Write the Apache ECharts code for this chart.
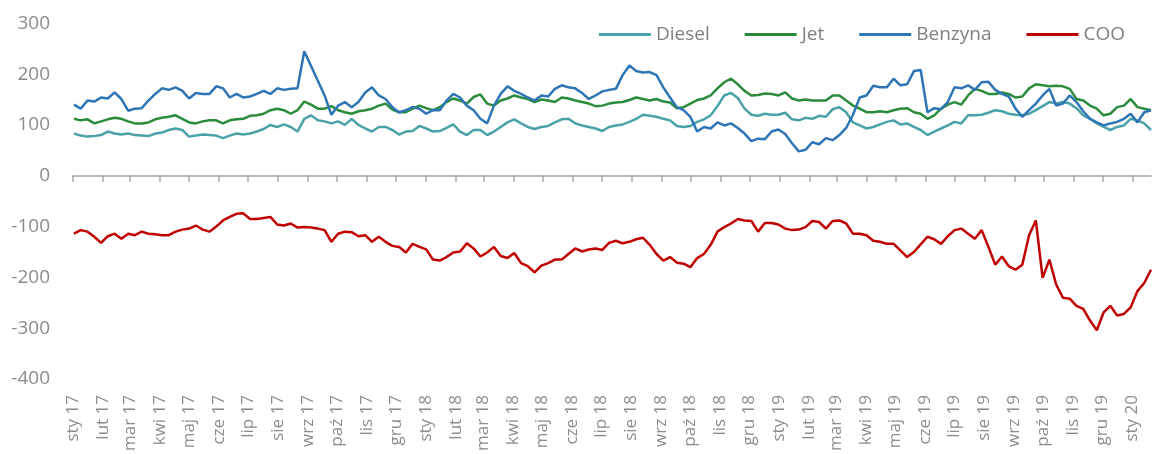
<!DOCTYPE html>
<html>
<head>
<meta charset="utf-8">
<script src="https://cdn.jsdelivr.net/npm/echarts@6/dist/echarts.min.js"></script>
<style>
html,body{margin:0;padding:0;background:#fff;}
#chart{width:1152px;height:454px;}
</style>
</head>
<body>
<div id="chart"></div>
<script>
// Weekly observations, first week starting 2017-01-02
const firstWeek = '2017-01-02';
const seriesNames = ['Diesel', 'Jet', 'Benzyna', 'COO'];
const monthNames = ['sty','lut','mar','kwi','maj','cze','lip','sie','wrz','paź','lis','gru'];
const yTicks = [-400, -300, -200, -100, 0, 100, 200, 300];

const diesel = [
  83,79,77,78,80,87,83,81,83,80,
  79,78,83,85,90,93,90,77,79,81,
  80,79,74,79,83,81,83,87,92,100,
  96,101,96,87,112,119,109,107,103,107,
  100,112,100,93,87,96,96,90,81,87,
  88,98,93,87,88,94,101,87,80,90,
  90,80,87,96,105,111,103,96,92,96,
  98,105,111,112,103,99,96,93,88,96,
  99,101,106,112,120,118,116,112,109,98,
  96,98,106,111,119,137,158,163,153,132,
  120,118,122,120,120,124,111,109,114,112,
  118,116,131,135,125,105,99,93,96,101,
  106,109,101,103,96,90,80,87,93,99,
  106,103,119,119,120,124,129,127,122,120,
  119,122,129,137,145,142,145,142,133,119,
  112,103,96,90,96,99,112,109,103,90
];
const jet = [
  112,109,111,103,107,111,114,112,107,103,
  103,105,111,114,116,119,112,105,103,107,
  109,109,103,109,111,112,118,119,122,129,
  132,129,122,129,146,140,132,132,137,129,
  125,122,127,129,132,138,142,130,125,125,
  132,138,133,129,135,145,152,148,142,155,
  160,142,138,148,152,158,154,151,145,150,
  148,145,154,152,148,145,142,137,138,142,
  144,145,149,154,151,148,151,146,144,133,
  135,142,149,152,158,172,184,191,180,167,
  158,159,162,161,158,164,152,148,150,148,
  148,148,158,158,148,138,132,125,125,127,
  125,129,132,133,125,122,112,119,132,140,
  145,140,158,171,167,161,161,164,161,154,
  156,172,180,178,176,177,176,171,151,148,
  138,132,119,122,135,138,151,135,132,129
];
const benzyna = [
  140,132,148,146,154,152,164,151,128,132,
  133,148,161,172,169,174,167,152,163,161,
  161,176,172,154,161,154,156,161,167,161,
  172,169,171,172,245,216,187,158,120,138,
  145,135,145,164,174,158,151,135,125,129,
  135,132,122,129,129,148,161,154,138,129,
  112,103,138,161,176,167,161,154,148,158,
  156,171,178,174,172,163,151,158,166,169,
  171,198,217,206,203,204,198,174,154,135,
  129,116,87,96,93,105,99,103,94,83,
  68,73,72,87,91,82,64,48,51,66,
  62,74,70,80,94,120,154,158,177,174,
  174,191,178,180,206,208,125,133,131,145,
  174,172,178,169,184,185,169,161,156,132,
  116,129,142,158,171,138,142,158,145,127,
  112,105,99,103,106,112,122,105,125,129
];
const coo = [
  -114,-107,-110,-120,-132,-119,-114,-124,-114,-117,
  -110,-114,-115,-117,-117,-110,-106,-104,-98,-106,
  -110,-100,-88,-81,-75,-74,-85,-85,-83,-81,
  -96,-98,-94,-102,-101,-102,-104,-107,-130,-114,
  -110,-111,-119,-117,-130,-120,-130,-138,-140,-151,
  -134,-140,-145,-165,-167,-160,-151,-149,-133,-143,
  -159,-151,-140,-158,-162,-152,-172,-178,-190,-177,
  -172,-165,-165,-154,-143,-149,-145,-143,-146,-132,
  -128,-133,-130,-125,-122,-136,-154,-167,-160,-171,
  -173,-180,-162,-154,-136,-110,-101,-94,-85,-88,
  -89,-110,-93,-93,-96,-104,-107,-106,-101,-89,
  -91,-104,-89,-88,-94,-114,-114,-117,-128,-130,
  -134,-134,-147,-160,-150,-135,-120,-125,-134,-119,
  -107,-104,-114,-124,-107,-140,-175,-159,-178,-185,
  -175,-117,-88,-201,-165,-214,-240,-242,-256,-262,
  -285,-304,-269,-256,-275,-272,-259,-227,-211,-185
];

const colors = ['#4aa2a8', '#2a8c3a', '#2e75b6', '#c00000'];
const DAY = 86400000;
const t0 = Date.parse(firstWeek + 'T00:00:00Z');
const dates = diesel.map((_, i) => t0 + i * 7 * DAY);
const xMin = Date.UTC(2017, 0, 1);
const xMax = dates[dates.length - 1];
const monthTicks = [];
for (let m = 0; m <= 36; m++) monthTicks.push(Date.UTC(2017 + Math.floor(m / 12), m % 12, 1));
function monthLabel(v) {
  const d = new Date(v);
  return monthNames[d.getUTCMonth()] + ' ' + String(d.getUTCFullYear()).slice(2);
}
const pair = arr => arr.map((v, i) => [dates[i], v]);
const allValues = [diesel, jet, benzyna, coo];

const font = '"Open Sans", "Noto Sans", sans-serif';
const chart = echarts.init(document.getElementById('chart'), null, {renderer: 'canvas'});
chart.setOption({
  animation: false,
  color: colors,
  textStyle: {fontFamily: font},
  grid: {left: 73, right: 1, top: 23.3, bottom: 69.7, containLabel: false},
  legend: {
    right: 22, top: 20,
    icon: 'rect', itemWidth: 52, itemHeight: 3, itemGap: 35,
    textStyle: {fontFamily: font, fontSize: 19, color: '#7f7f7f', padding: [0, 0, 0, 0]},
    data: seriesNames
  },
  xAxis: [
    {
      type: 'value', min: xMin, max: xMax, position: 'bottom',
      axisLine: {onZero: true, lineStyle: {color: '#a6a6a6', width: 1.5}},
      axisTick: {show: true, length: 6, customValues: monthTicks, lineStyle: {color: '#a6a6a6', width: 1.5}},
      axisLabel: {show: false},
      splitLine: {show: false}
    },
    {
      type: 'value', min: xMin, max: xMax, position: 'bottom',
      axisLine: {show: false, onZero: false},
      axisTick: {show: false},
      axisLabel: {
        show: true, rotate: 90, margin: 16, fontSize: 17, color: '#8c8c8c', fontFamily: font,
        customValues: monthTicks, formatter: monthLabel,
        hideOverlap: false, interval: 0, showMinLabel: true, showMaxLabel: true
      },
      splitLine: {show: false}
    }
  ],
  yAxis: {
    type: 'value', min: yTicks[0], max: yTicks[yTicks.length - 1], interval: 100,
    axisLine: {show: false}, axisTick: {show: false}, splitLine: {show: false},
    axisLabel: {margin: 23, fontSize: 19, color: '#8c8c8c', fontFamily: font}
  },
  series: seriesNames.map((name, k) => ({
    name, type: 'line', xAxisIndex: 0, data: pair(allValues[k]),
    symbol: 'none', showSymbol: false,
    lineStyle: {width: 2.5, color: colors[k]},
    itemStyle: {color: colors[k]}
  }))
});
</script>
</body>
</html>
